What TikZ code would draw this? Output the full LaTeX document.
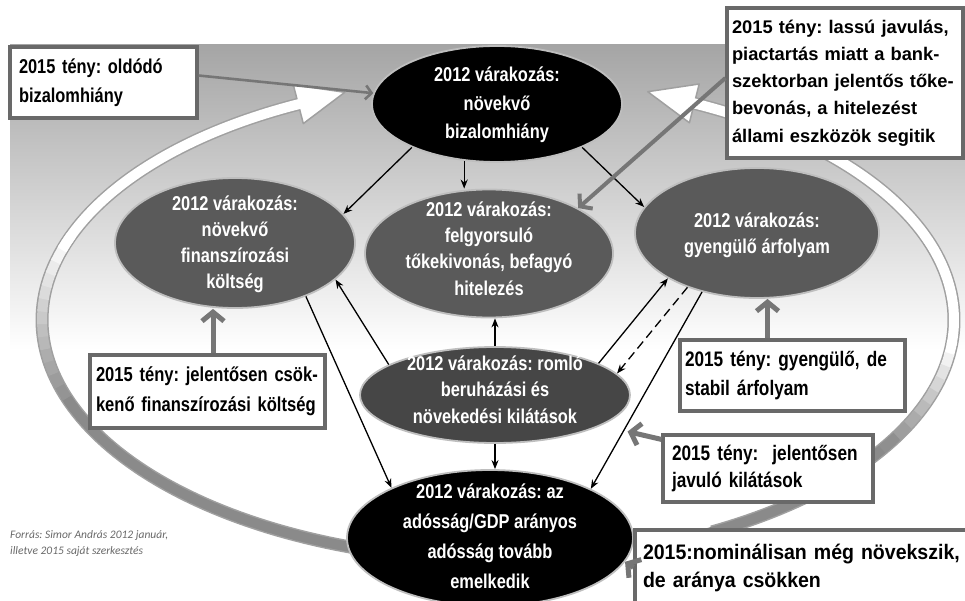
\documentclass[tikz,border=0pt]{standalone}
\usepackage{fontspec}
\setmainfont{Liberation Sans}
\newfontfamily\narf{Liberation Sans}[FakeStretch=0.82]
\newfontfamily\boxff{Liberation Sans}[FakeStretch=0.93]
\newfontfamily\srcf{Carlito}
\usetikzlibrary{arrows.meta,shapes.geometric}
\definecolor{bgtop}{RGB}{165,165,165}
\definecolor{ringedge}{RGB}{160,160,160}
\definecolor{callgray}{RGB}{118,118,118}
\definecolor{boxedge}{RGB}{105,105,105}
\definecolor{ellmid}{RGB}{90,90,90}
\definecolor{elldark}{RGB}{70,70,70}
\definecolor{ellline}{RGB}{190,190,190}
\definecolor{srcgray}{RGB}{105,105,105}
\newcommand\nsp{\spaceskip=0.228em plus 0.05em minus 0.05em\relax}
\newcommand\wsp{\spaceskip=0.259em plus 0.05em minus 0.05em\relax}
\newcommand\efont[1]{\narf\bfseries\fontsize{20}{#1}\selectfont\nsp}
\newcommand\bfontn[2]{\narf\bfseries\fontsize{#1}{#2}\selectfont\nsp}
\begin{document}
\frenchspacing
\begin{tikzpicture}[x=1pt,y=-1pt,
  ell/.style={ellipse, inner sep=0pt, draw=ellline, line width=1.8pt},
  etxt/.style={text=white, align=center, inner sep=0pt},
  boxs/.style={rectangle, draw=boxedge, line width=3.2pt, fill=white, inner ysep=0pt, align=left, text=black},
  conn/.style={draw=black, line width=1.3pt, -{Stealth[length=9pt,width=7pt]}},
  callthin/.style={draw=callgray, line width=2.6pt, -{Straight Barb[length=6pt,width=14pt]}},
  callmid/.style={draw=callgray, line width=4pt, -{Straight Barb[length=8pt,width=20pt]}},
  callfat/.style={draw=callgray, line width=5pt, -{Straight Barb[length=9pt,width=22pt]}},
  band/.style={line width=10pt, line cap=butt},
  headst/.style={fill=white, draw=ringedge, line width=1.5pt, line join=round},
]
\useasboundingbox (0,0) rectangle (965,601);
\clip (0,0) rectangle (965,601);
\fill[white] (0,0) rectangle (965,601);
\shade[top color=bgtop, bottom color=white] (10,45) rectangle (965,350);

% ---- big ring: edges
\draw[ringedge, line width=13pt] plot[domain=108:244, samples=100] ({498+456*cos(\x)},{320+240*sin(\x)});
\draw[ringedge, line width=13pt] plot[domain=-64.5:62, samples=100] ({498+456*cos(\x)},{320+240*sin(\x)});
% heads
\filldraw[headst] (344.8,92.3) -- (303.3,123.6) -- (293.3,84.8) -- cycle;
\filldraw[headst] (647.7,91.7) -- (699.2,84.0) -- (689.4,122.8) -- cycle;
% left band
\foreach \a in {108,112,...,156} {
  \pgfmathsetmacro\b{\a+4.6}
  \draw[band, black!46] plot[domain=\a:\b, samples=4] ({498+456*cos(\x)},{320+240*sin(\x)});
}
\foreach \a in {158,161,...,197} {
  \pgfmathsetmacro\b{\a+3.6}
  \pgfmathtruncatemacro\k{46*(198-\a)/40}
  \draw[band, black!\k] plot[domain=\a:\b, samples=3] ({498+456*cos(\x)},{320+240*sin(\x)});
}
\draw[band, white] plot[domain=197:245.5, samples=50] ({498+456*cos(\x)},{320+240*sin(\x)});
% right band
\foreach \a in {30,34,...,58} {
  \pgfmathsetmacro\b{\a+4.6}
  \draw[band, black!46] plot[domain=\a:\b, samples=4] ({498+456*cos(\x)},{320+240*sin(\x)});
}
\foreach \a in {5,8,...,29} {
  \pgfmathsetmacro\b{\a+3.6}
  \pgfmathtruncatemacro\k{46*(\a-5)/25}
  \draw[band, black!\k] plot[domain=\a:\b, samples=3] ({498+456*cos(\x)},{320+240*sin(\x)});
}
\draw[band, white] plot[domain=-66:6, samples=70] ({498+456*cos(\x)},{320+240*sin(\x)});

% ---- ellipses
\node[ell, fill=black,   minimum width=250pt, minimum height=116pt] (T)  at (497,104) {};
\node[ell, fill=ellmid,  minimum width=240pt, minimum height=130pt] (Lf) at (235,243) {};
\node[ell, fill=ellmid,  minimum width=248pt, minimum height=128pt] (Cc) at (489,253.5) {};
\node[ell, fill=ellmid,  minimum width=244pt, minimum height=130pt] (Rt) at (757,233) {};
\node[ell, fill=elldark, minimum width=270pt, minimum height=96pt]  (Md) at (495,395) {};
\node[ell, fill=black,   minimum width=286pt, minimum height=136pt] (Bt) at (490,538) {};

\node[etxt, font=\efont{28.3}] (tT) at (497,104.8) {2012 várakozás:\\növekvő\\bizalomhiány};
\node[etxt, font=\efont{26}]   (tL) at (235,244) {2012 várakozás:\\növekvő\\finanszírozási\\költség};
\node[etxt, font=\efont{26.2}] (tC) at (489,248.5) {2012 várakozás:\\felgyorsuló\\tőkekivonás, befagyó\\hitelezés};
\node[etxt, font=\efont{25.5}] (tR) at (757,235.5) {2012 várakozás:\\gyengülő árfolyam};
\node[etxt, font=\efont{26.5}] (tM) at (495,389.5) {2012 várakozás: romló\\beruházási és\\növekedési kilátások};
\node[etxt, font=\efont{30}]   (tB) at (490,536) {2012 várakozás: az\\adósság/GDP arányos\\adósság tovább\\emelkedik};

% ---- 2015 boxes
\node[boxs, minimum width=187pt, minimum height=71pt, inner xsep=9pt, text width=169pt,
  font=\bfontn{20}{29}] (bA) at (103.5,82.5) {2015 tény: oldódó\\bizalomhiány};
\node[boxs, minimum width=236pt, minimum height=150pt, inner xsep=5pt, text width=226pt,
  font=\bfseries\fontsize{18.3}{27.2}\selectfont] (bB) at (845,83) {\mbox{2015 tény: lassú javulás,}\\\mbox{piactartás miatt a bank-}\\\mbox{szektorban jelentős tőke-}\\\mbox{bevonás, a hitelezést}\\\mbox{állami eszközök segitik}};
\node[boxs, minimum width=235pt, minimum height=73pt, inner xsep=6pt, text width=223pt,
  font=\bfontn{20.2}{30}] (bC) at (207.5,391.5) {\mbox{2015 tény: jelentősen csök-}\\\mbox{kenő finanszírozási költség}};
\node[boxs, minimum width=225pt, minimum height=71pt, inner xsep=5pt, text width=215pt,
  font=\bfontn{21}{29}] (bD) at (792.5,375.5) {2015 tény: gyengülő, de\\stabil árfolyam};
\node[boxs, minimum width=210pt, minimum height=67pt, inner xsep=9pt, text width=192pt,
  font=\bfontn{21}{27}] (bE) at (768,468.5) {2015 tény: \ jelentősen\\javuló kilátások};
\node[boxs, minimum width=340pt, minimum height=75pt, inner xsep=8pt, text width=324pt,
  font=\boxff\bfseries\fontsize{21}{28}\selectfont\wsp] (bF) at (805,567.5) {\mbox{2015:nominálisan még növekszik,}\\de aránya csökken};

% ---- black connectors
\draw[conn] (T.207) -- (Lf.15);
\draw[conn] (T.240) -- (T.240 |- Cc.north);
\draw[conn] (T.333) -- (Rt.167);
\draw[conn] (Md.164) -- (Lf.-20);
\draw[conn] (Md.north) -- (Md.north |- Cc.south);
\draw[conn] (Md.17) -- (Rt.207);
\draw[conn, dash pattern=on 9pt off 5pt] (Rt.218) -- (Md.10);
\draw[conn] (Lf.-37) -- (Bt.153);
\draw[conn] (Md.south) -- (Md.south |- Bt.north);
\draw[conn] (Rt.227) -- (Bt.26);

% ---- gray callout arrows
\coordinate (cC) at ([xshift=5.5pt]bC.north);
\coordinate (cD) at ([xshift=-25pt]bD.north);
\draw[callthin] ([yshift=7pt]bA.east) -- (T.175);
\draw[callmid] ([yshift=5pt]bB.west) -- (Cc.27);
\draw[callfat] (cC) -- (cC |- Lf.south);
\draw[callfat] (cD) -- (cD |- Rt.south);
\draw[callfat, shorten >=27pt] ([yshift=-6pt]bE.north west) -- (Md.-16);
\draw[callfat] (bF.west) -- (Bt.-10);

% ---- source
\node[anchor=north west, align=left, inner sep=0pt, text=srcgray,
  font=\srcf\itshape\fontsize{11.5}{16.5}\selectfont] (src) at (10,530)
  {Forrás: Simor András 2012 január,\\illetve 2015 saját szerkesztés};
\end{tikzpicture}
\end{document}
